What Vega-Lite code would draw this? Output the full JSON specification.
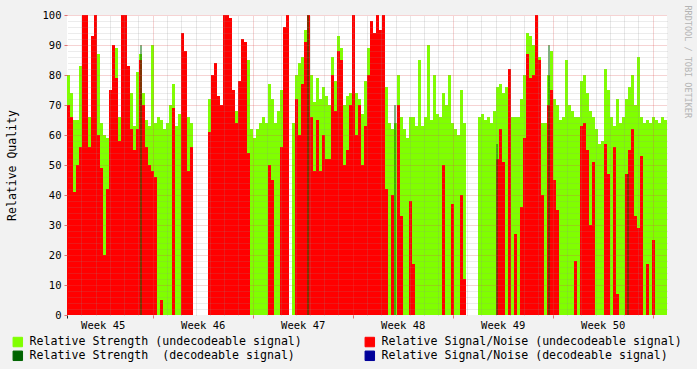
{
"$schema":"https://vega.github.io/schema/vega-lite/v6.json",
"width":600,"height":300,
"autosize":{"type":"none"},
"padding":{"left":67,"top":15,"right":30,"bottom":54},
"background":"#f2f2f2",
"config":{"view":{"fill":"#ffffff","stroke":null},"font":"DejaVu Sans Mono"},
"datasets":{
"q":[
{"d":0,"g":80,"r":70},{"d":0.21,"g":74,"r":66},{"d":0.42,"g":65,"r":41},{"d":0.63,"g":65,"r":50},{"d":0.84,"g":83,"r":56},
{"d":1.05,"g":76,"r":100},{"d":1.26,"g":70,"r":100},{"d":1.47,"g":66,"r":56},{"d":1.68,"g":66,"r":93},{"d":1.89,"g":70,"r":100},
{"d":2.1,"g":87,"r":60},{"d":2.31,"g":64,"r":49},{"d":2.52,"g":60,"r":20},{"d":2.73,"g":59,"r":42},{"d":2.94,"g":66,"r":75},
{"d":3.15,"g":89,"r":90},{"d":3.36,"g":89,"r":79},{"d":3.57,"g":66,"r":58},{"d":3.78,"g":70,"r":100},{"d":3.99,"g":70,"r":100},
{"d":4.2,"g":75,"r":83},{"d":4.41,"g":74,"r":62},{"d":4.62,"g":63,"r":55},{"d":4.83,"g":81,"r":62},{"d":5.04,"g":87,"r":85},
{"d":5.25,"g":74,"r":70},{"d":5.46,"g":65,"r":56},{"d":5.67,"g":63,"r":50},{"d":5.88,"g":90,"r":48},{"d":6.09,"g":64,"r":46},
{"d":6.3,"g":66,"r":0},{"d":6.51,"g":65,"r":5},{"d":6.72,"g":62,"r":0},{"d":6.93,"g":64,"r":0},{"d":7.14,"g":70,"r":0},
{"d":7.35,"g":77,"r":69},{"d":7.56,"g":63,"r":0},{"d":7.77,"g":67,"r":0},{"d":7.98,"g":70,"r":94},{"d":8.19,"g":70,"r":88},
{"d":8.4,"g":66,"r":48},{"d":8.61,"g":64,"r":56},{"d":8.82,"g":0,"r":0},{"d":9.03,"g":0,"r":0},{"d":9.24,"g":0,"r":0},
{"d":9.45,"g":0,"r":0},{"d":9.66,"g":0,"r":0},{"d":9.87,"g":72,"r":61},{"d":10.08,"g":74,"r":80},{"d":10.29,"g":78,"r":84},
{"d":10.5,"g":70,"r":73},{"d":10.71,"g":62,"r":70},{"d":10.92,"g":70,"r":100},{"d":11.13,"g":70,"r":100},{"d":11.34,"g":70,"r":99},
{"d":11.55,"g":70,"r":75},{"d":11.76,"g":68,"r":64},{"d":11.97,"g":70,"r":78},{"d":12.18,"g":72,"r":92},{"d":12.39,"g":66,"r":91},
{"d":12.6,"g":85,"r":54},{"d":12.81,"g":62,"r":0},{"d":13.02,"g":59,"r":0},{"d":13.23,"g":62,"r":0},{"d":13.44,"g":64,"r":0},
{"d":13.65,"g":66,"r":0},{"d":13.86,"g":64,"r":0},{"d":14.07,"g":77,"r":50},{"d":14.28,"g":72,"r":45},{"d":14.49,"g":64,"r":0},
{"d":14.7,"g":68,"r":0},{"d":14.91,"g":75,"r":56},{"d":15.12,"g":80,"r":96},{"d":15.33,"g":90,"r":100},{"d":15.54,"g":0,"r":0},
{"d":15.75,"g":64,"r":0},{"d":15.96,"g":80,"r":72},{"d":16.17,"g":84,"r":60},{"d":16.38,"g":86,"r":77},{"d":16.59,"g":95,"r":91},
{"d":16.8,"g":95,"r":100},{"d":17.01,"g":80,"r":66},{"d":17.22,"g":71,"r":48},{"d":17.43,"g":79,"r":65},{"d":17.64,"g":72,"r":48},
{"d":17.85,"g":76,"r":60},{"d":18.06,"g":73,"r":52},{"d":18.27,"g":70,"r":52},{"d":18.48,"g":86,"r":80},{"d":18.69,"g":78,"r":68},
{"d":18.9,"g":93,"r":88},{"d":19.11,"g":89,"r":85},{"d":19.32,"g":70,"r":50},{"d":19.53,"g":73,"r":55},{"d":19.74,"g":74,"r":70},
{"d":19.95,"g":76,"r":100},{"d":20.16,"g":74,"r":60},{"d":20.37,"g":72,"r":70},{"d":20.58,"g":67,"r":50},{"d":20.79,"g":78,"r":63},
{"d":21,"g":89,"r":80},{"d":21.21,"g":91,"r":98},{"d":21.42,"g":90,"r":94},{"d":21.63,"g":85,"r":100},{"d":21.84,"g":85,"r":95},
{"d":22.05,"g":78,"r":100},{"d":22.26,"g":76,"r":42},{"d":22.47,"g":64,"r":0},{"d":22.68,"g":62,"r":40},{"d":22.89,"g":64,"r":0},
{"d":23.1,"g":80,"r":70},{"d":23.31,"g":66,"r":33},{"d":23.52,"g":62,"r":0},{"d":23.73,"g":59,"r":0},{"d":23.94,"g":66,"r":38},
{"d":24.15,"g":66,"r":17},{"d":24.36,"g":63,"r":0},{"d":24.57,"g":85,"r":0},{"d":24.78,"g":63,"r":0},{"d":24.99,"g":66,"r":0},
{"d":25.2,"g":90,"r":0},{"d":25.41,"g":65,"r":0},{"d":25.62,"g":80,"r":0},{"d":25.83,"g":67,"r":0},{"d":26.04,"g":66,"r":0},
{"d":26.25,"g":74,"r":50},{"d":26.46,"g":70,"r":0},{"d":26.67,"g":80,"r":0},{"d":26.88,"g":64,"r":37},{"d":27.09,"g":62,"r":0},
{"d":27.3,"g":60,"r":0},{"d":27.51,"g":75,"r":40},{"d":27.72,"g":64,"r":12},{"d":27.93,"g":0,"r":0},{"d":28.14,"g":0,"r":0},
{"d":28.35,"g":0,"r":0},{"d":28.56,"g":0,"r":0},{"d":28.77,"g":66,"r":0},{"d":28.98,"g":67,"r":0},{"d":29.19,"g":65,"r":0},
{"d":29.4,"g":66,"r":0},{"d":29.61,"g":64,"r":0},{"d":29.82,"g":68,"r":0},{"d":30.03,"g":76,"r":52},{"d":30.24,"g":77,"r":62},
{"d":30.45,"g":74,"r":51},{"d":30.66,"g":76,"r":0},{"d":30.87,"g":82,"r":82},{"d":31.08,"g":66,"r":0},{"d":31.29,"g":66,"r":27},
{"d":31.5,"g":66,"r":0},{"d":31.71,"g":72,"r":36},{"d":31.92,"g":80,"r":59},{"d":32.13,"g":94,"r":87},{"d":32.34,"g":93,"r":79},
{"d":32.55,"g":90,"r":80},{"d":32.76,"g":90,"r":100},{"d":32.97,"g":86,"r":85},{"d":33.18,"g":64,"r":40},{"d":33.39,"g":64,"r":0},
{"d":33.6,"g":80,"r":70},{"d":33.81,"g":88,"r":75},{"d":34.02,"g":72,"r":45},{"d":34.23,"g":70,"r":35},{"d":34.44,"g":65,"r":0},
{"d":34.65,"g":66,"r":0},{"d":34.86,"g":85,"r":0},{"d":35.07,"g":70,"r":0},{"d":35.28,"g":68,"r":0},{"d":35.49,"g":66,"r":18},
{"d":35.7,"g":66,"r":0},{"d":35.91,"g":78,"r":63},{"d":36.12,"g":80,"r":64},{"d":36.33,"g":74,"r":55},{"d":36.54,"g":68,"r":30},
{"d":36.75,"g":66,"r":51},{"d":36.96,"g":62,"r":0},{"d":37.17,"g":57,"r":0},{"d":37.38,"g":58,"r":0},{"d":37.59,"g":82,"r":57},
{"d":37.8,"g":75,"r":47},{"d":38.01,"g":66,"r":0},{"d":38.22,"g":63,"r":56},{"d":38.43,"g":72,"r":7},{"d":38.64,"g":64,"r":0},
{"d":38.85,"g":66,"r":0},{"d":39.06,"g":72,"r":47},{"d":39.27,"g":76,"r":55},{"d":39.48,"g":80,"r":62},{"d":39.69,"g":70,"r":33},
{"d":39.9,"g":86,"r":29},{"d":40.11,"g":66,"r":53},{"d":40.32,"g":64,"r":0},{"d":40.53,"g":65,"r":17},{"d":40.74,"g":64,"r":0},
{"d":40.95,"g":66,"r":25},{"d":41.16,"g":65,"r":0},{"d":41.37,"g":64,"r":0},{"d":41.58,"g":66,"r":0},{"d":41.79,"g":65,"r":0},
{"d":42,"g":65,"r":0}
],
"dec":[{"d":5.18,"v":90},{"d":16.87,"v":100},{"d":22.96,"v":70},{"d":30.1,"v":57},{"d":33.74,"v":90},{"d":39.27,"v":47}]
},
"resolve":{"axis":{"x":"independent","y":"independent"}},
"layer":[
{"data":{"name":"q"},
 "mark":{"type":"area","interpolate":"step-after"},
 "encoding":{
  "x":{"field":"d","type":"quantitative","scale":{"domain":[0,42],"nice":false,"zero":false},
   "axis":{"orient":"top","values":[1,2,3,4,5,6,7,8,9,10,11,12,13,14,15,16,17,18,19,20,21,22,23,24,25,26,27,28,29,30,31,32,33,34,35,36,37,38,39,40,41],
    "grid":true,"gridColor":{"condition":{"test":"datum.value % 7 == 6","value":"rgba(222,79,79,0.5)"},"value":"rgba(143,143,143,0.4)"},
    "gridDash":[1,1],"gridWidth":1,"labels":false,"ticks":false,"domain":false,"title":null,"zindex":1}},
  "y":{"field":"g","type":"quantitative","stack":null,"scale":{"domain":[0,100],"nice":false},
   "axis":{"orient":"right","values":[2,4,6,8,12,14,16,18,22,24,26,28,32,34,36,38,42,44,46,48,52,54,56,58,62,64,66,68,72,74,76,78,82,84,86,88,92,94,96,98],
    "grid":true,"gridColor":"rgba(143,143,143,0.35)","gridDash":[1,1],"gridWidth":1,"labels":false,"ticks":false,"domain":false,
    "title":"RRDTOOL / TOBI OETIKER","titleAngle":90,"titleColor":"#b4b4b4","titleFont":"DejaVu Sans Mono","titleFontSize":8.5,"titleFontWeight":"normal",
    "titleX":20,"titleY":-10,"titleAlign":"left","titleBaseline":"middle","zindex":1}},
  "color":{"datum":"Relative Strength (undecodeable signal)","type":"nominal",
   "scale":{"domain":["Relative Strength (undecodeable signal)","Relative Strength\u00a0 (decodeable signal)","Relative Signal/Noise (undecodeable signal)","Relative Signal/Noise (decodeable signal)"],
            "range":["#80ff00","#006400","#ff0000","#000099"]},
   "legend":{"orient":"none","legendX":-55,"legendY":321,"columns":2,"title":null,"symbolType":"square","symbolSize":90,
    "labelFont":"DejaVu Sans Mono","labelFontSize":11.6,"labelColor":"#000000","labelLimit":500,"columnPadding":61,"rowPadding":0,"labelOffset":6,
    "encode":{"symbols":{"update":{"fill":{"scale":"color","field":"value"},"stroke":{"value":"#000000"},"strokeWidth":{"value":1},"opacity":{"value":1},"fillOpacity":{"value":1}}}}}}
 }},
{"data":{"name":"q"},
 "mark":{"type":"area","interpolate":"step-after"},
 "encoding":{
  "x":{"field":"d","type":"quantitative",
   "axis":{"orient":"bottom","values":[0,6,13,20,27,34,41],"grid":false,
    "labelExpr":"datum.value == 0 ? '' : 'Week ' + (44 + (datum.value + 1) / 7)",
    "labelOffset":-50,"labelFlush":false,"labelOverlap":false,"labelBound":false,
    "labelFont":"DejaVu Sans Mono","labelFontSize":10.5,"labelColor":"#000000","labelPadding":2,
    "ticks":true,"tickSize":3,"tickColor":{"condition":{"test":"datum.value == 0","value":"#1f1f1f"},"value":"rgba(222,79,79,0.8)"},
    "domain":false,"title":null,"zindex":1}},
  "y":{"field":"r","type":"quantitative","stack":null,
   "axis":{"orient":"left","values":[0,10,20,30,40,50,60,70,80,90,100],
    "grid":true,"gridColor":{"condition":{"test":"datum.value == 0","value":"rgba(0,0,0,0)"},"value":"rgba(222,79,79,0.5)"},
    "gridDash":[1,1],"gridWidth":1,"labelFont":"DejaVu Sans Mono","labelFontSize":10.5,"labelColor":"#000000","labelPadding":3,
    "ticks":true,"tickSize":3,"tickColor":"rgba(222,79,79,0.8)","domain":false,
    "title":"Relative Quality","titleFont":"DejaVu Sans Mono","titleFontSize":11.5,"titleFontWeight":"normal","titleColor":"#000000",
    "titleAngle":270,"titleX":-55,"titleY":150,"titleAlign":"center","titleBaseline":"middle","zindex":1}},
  "color":{"datum":"Relative Signal/Noise (undecodeable signal)","type":"nominal"}
 }},
{"data":{"name":"dec"},
 "mark":{"type":"rule","strokeWidth":1},
 "encoding":{
  "x":{"field":"d","type":"quantitative","axis":null},
  "y":{"field":"v","type":"quantitative","axis":null},
  "y2":{"datum":0},
  "color":{"datum":"Relative Strength\u00a0 (decodeable signal)","type":"nominal"}
 }},
{"mark":{"type":"rule","color":"#1f1f1f","strokeWidth":1},
 "encoding":{"x":{"datum":0,"axis":null},"x2":{"datum":42.3},"y":{"datum":0,"axis":null}}},
{"mark":{"type":"rule","color":"#1f1f1f","strokeWidth":1},
 "encoding":{"x":{"datum":0,"axis":null},"y":{"datum":0,"axis":null},"y2":{"datum":101.7}}},
{"mark":{"type":"point","shape":"triangle-up","filled":true,"color":"#801f1f","size":30,"opacity":1},
 "encoding":{"x":{"datum":0,"axis":null},"y":{"datum":101.5,"axis":null}}},
{"mark":{"type":"point","shape":"triangle-right","filled":true,"color":"#801f1f","size":30,"opacity":1},
 "encoding":{"x":{"datum":42.3,"axis":null},"y":{"datum":0,"axis":null}}}
]
}
